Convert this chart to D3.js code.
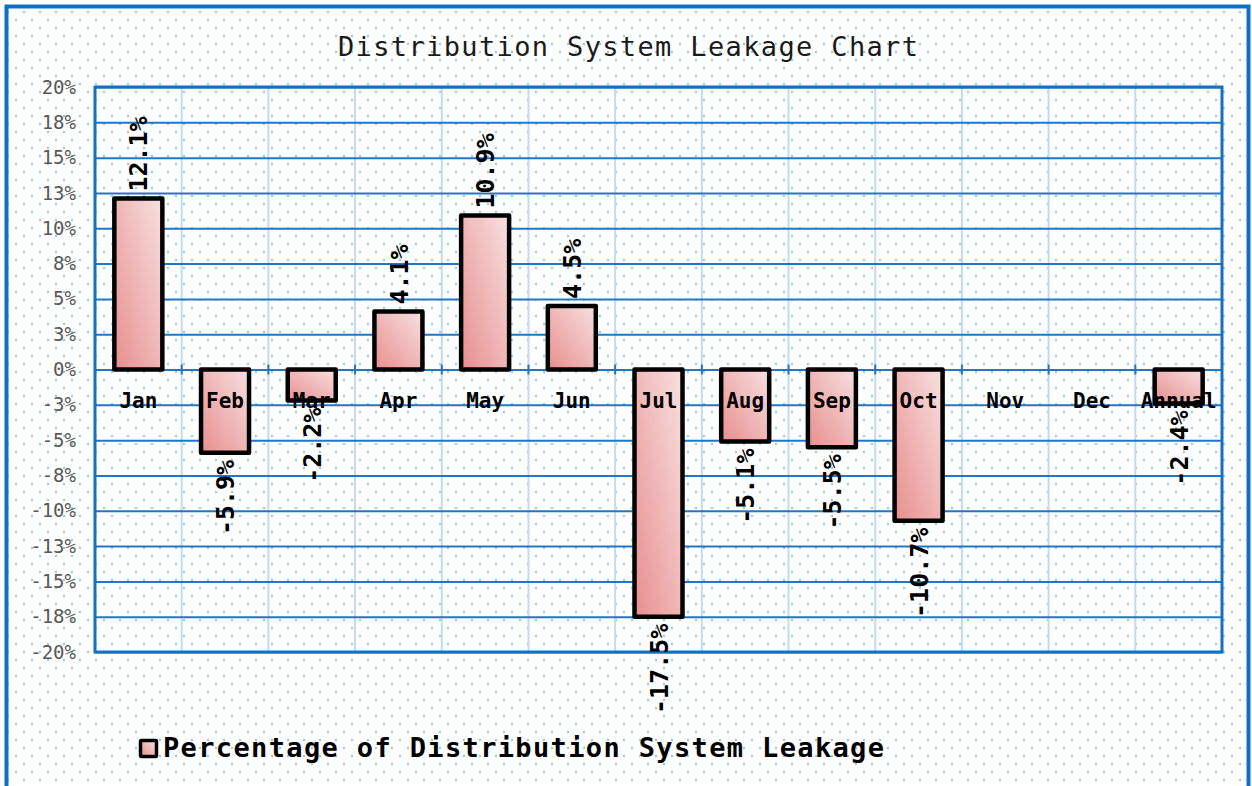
<!DOCTYPE html>
<html><head><meta charset="utf-8">
<script src="https://cdn.jsdelivr.net/npm/d3@7"></script>
<style>body{margin:0;background:#fff;}svg{display:block;}</style>
</head><body>
<script>
const categories = ["Jan","Feb","Mar","Apr","May","Jun","Jul","Aug","Sep","Oct","Nov","Dec","Annual"];
const values = [12.1,-5.9,-2.2,4.1,10.9,4.5,-17.5,-5.1,-5.5,-10.7,null,null,-2.4];
const valueLabels = ["12.1%","-5.9%","-2.2%","4.1%","10.9%","4.5%","-17.5%","-5.1%","-5.5%","-10.7%",null,null,"-2.4%"];
const tickValues = [-20,-17.5,-15,-12.5,-10,-7.5,-5,-2.5,0,2.5,5,7.5,10,12.5,15,17.5,20];
const tickLabels = ["-20%","-18%","-15%","-13%","-10%","-8%","-5%","-3%","0%","3%","5%","8%","10%","13%","15%","18%","20%"];
const title = "Distribution System Leakage Chart";
const seriesName = "Percentage of Distribution System Leakage";

const W = 1252, H = 786;
const plot = {l:95, r:1222, t:87, b:652};
const mono = "'DejaVu Sans Mono', monospace";

const svg = d3.select("body").append("svg").attr("width", W).attr("height", H);
const defs = svg.append("defs");
const pat = defs.append("pattern").attr("id","dots").attr("patternUnits","userSpaceOnUse")
  .attr("width",16).attr("height",16).attr("x",6).attr("y",2);
pat.append("rect").attr("x",1).attr("y",9).attr("width",2).attr("height",2).attr("fill","#8fcbdc");
pat.append("rect").attr("x",9).attr("y",1).attr("width",2).attr("height",2).attr("fill","#8fcbdc");

const grad = defs.append("linearGradient").attr("id","barGrad")
  .attr("x1","0").attr("y1","1").attr("x2","1").attr("y2","0");
grad.append("stop").attr("offset","0%").attr("stop-color","#e88e8e");
grad.append("stop").attr("offset","100%").attr("stop-color","#f8e0e0");

// background
svg.append("rect").attr("width",W).attr("height",H).attr("fill","#fff");
svg.append("rect").attr("x",7).attr("y",7).attr("width",W-14).attr("height",H).attr("fill","url(#dots)");
svg.append("rect").attr("x",6.5).attr("y",6.5).attr("width",1242).attr("height",H+10)
  .attr("fill","none").attr("stroke","#0e70c0").attr("stroke-width",4);

const x = d3.scaleBand().domain(categories).range([plot.l, plot.r]).padding(0);
const y = d3.scaleLinear().domain([-20,20]).range([plot.b, plot.t]);

// vertical gridlines
svg.append("g").selectAll("line").data(categories.slice(1)).join("line")
  .attr("x1", d=>x(d)).attr("x2", d=>x(d)).attr("y1", plot.t).attr("y2", plot.b)
  .attr("stroke","#c5d9f1").attr("stroke-width",2);

// horizontal gridlines via axis
const yAxis = d3.axisLeft(y).tickValues(tickValues).tickSize(-(plot.r-plot.l)).tickPadding(19)
  .tickFormat((d,i)=>tickLabels[i]);
const ya = svg.append("g").attr("transform",`translate(${plot.l},0)`).call(yAxis);
ya.select(".domain").remove();
ya.selectAll(".tick line").attr("stroke","#1f77c8").attr("stroke-width",2);
ya.selectAll(".tick text").attr("font-family",mono).attr("font-size",19).attr("fill","#595959");

// zero-axis ticks
svg.append("g").selectAll("line").data(categories.slice(1)).join("line")
  .attr("x1",d=>x(d)).attr("x2",d=>x(d)).attr("y1",y(0)-5).attr("y2",y(0)+5)
  .attr("stroke","#1f77c8").attr("stroke-width",2);

// plot border
svg.append("rect").attr("x",plot.l).attr("y",plot.t).attr("width",plot.r-plot.l).attr("height",plot.b-plot.t)
  .attr("fill","none").attr("stroke","#1470c0").attr("stroke-width",3);

// bars
const bw = 48;
const data = categories.map((c,i)=>({c, v:values[i], lab:valueLabels[i]})).filter(d=>d.v!==null);
svg.append("g").selectAll("rect").data(data).join("rect")
  .attr("x", d=>x(d.c)+x.bandwidth()/2-bw/2)
  .attr("y", d=>y(Math.max(0,d.v)))
  .attr("width", bw)
  .attr("height", d=>Math.abs(y(d.v)-y(0)))
  .attr("fill","url(#barGrad)").attr("stroke","#000").attr("stroke-width",4.5).attr("stroke-linejoin","round");

// category labels
svg.append("g").selectAll("text").data(categories).join("text")
  .attr("x", d=>x(d)+x.bandwidth()/2).attr("y", y(0)+38)
  .attr("text-anchor","middle").attr("font-family",mono).attr("font-weight","bold")
  .attr("font-size",21).attr("fill","#000").text(d=>d);

// data labels
const dlSize = 25;
svg.append("g").selectAll("text").data(data).join("text")
  .attr("transform", d=>{
    const cx = x(d.c)+x.bandwidth()/2;
    const yy = d.v>=0 ? y(d.v)-7 : y(d.v)+7;
    return `translate(${cx},${yy}) rotate(-90)`;
  })
  .attr("y", dlSize*0.73/2)
  .attr("text-anchor", d=>d.v>=0?"start":"end")
  .attr("font-family",mono).attr("font-weight","bold").attr("font-size",dlSize)
  .attr("fill","#000")
  .text(d=>d.lab);

// title
svg.append("text").attr("x",628).attr("y",56).attr("text-anchor","middle")
  .attr("font-family",mono).attr("font-size",27).attr("fill","#1a1a1a")
  .attr("textLength",580).attr("lengthAdjust","spacing").text(title);

// legend
svg.append("rect").attr("x",140.5).attr("y",740.5).attr("width",16).attr("height",16)
  .attr("fill","url(#barGrad)").attr("stroke","#000").attr("stroke-width",3.5).attr("rx",1);
svg.append("text").attr("x",163).attr("y",757)
  .attr("font-family",mono).attr("font-weight","bold").attr("font-size",27).attr("fill","#000")
  .attr("textLength",721).attr("lengthAdjust","spacing").text(seriesName);
</script>
</body></html>
